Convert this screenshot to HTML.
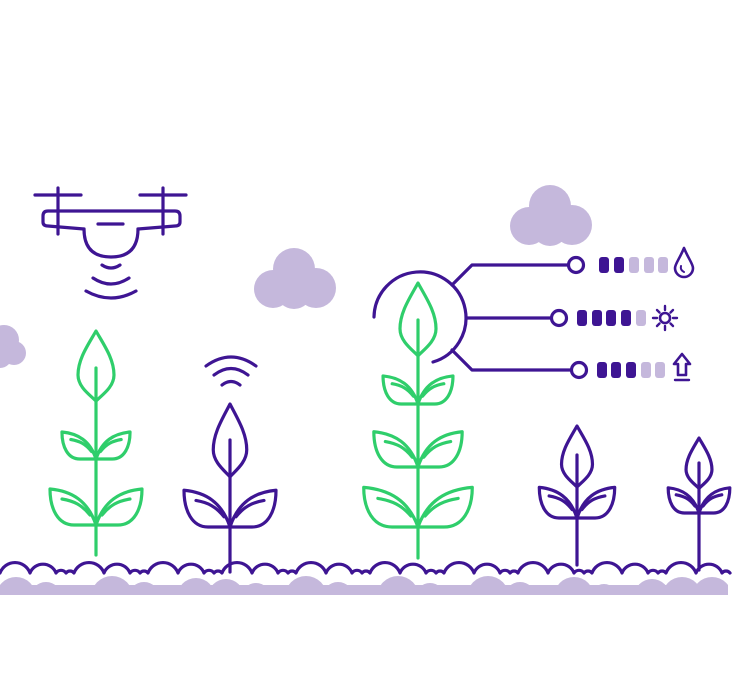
<!DOCTYPE html>
<html><head><meta charset="utf-8"><style>html,body{margin:0;padding:0;background:#fff}svg{display:block}</style></head>
<body>
<svg width="740" height="693" viewBox="0 0 740 693" xmlns="http://www.w3.org/2000/svg">
<defs>
<g id="lf"><path d="M0,0 C8,-24 24,-34 46,-36 C46,-16 38,0 22,0 L0,0 Z" vector-effect="non-scaling-stroke"/><path d="M6,-10 C14,-20 22,-24 34,-26" vector-effect="non-scaling-stroke"/></g>
<g id="tl"><path d="M0,0 C8,14 18,28 18,44 C18,56 6,64 0,70 C-6,64 -18,56 -18,44 C-18,28 -8,14 0,0 Z" vector-effect="non-scaling-stroke"/></g>
<g id="cl"><circle cx="0" cy="-18" r="21"/><circle cx="-21" cy="2" r="19"/><circle cx="22" cy="1" r="20"/><circle cx="0" cy="4" r="18"/></g>
<clipPath id="gc"><rect x="0" y="560" width="728" height="35"/></clipPath>
</defs>
<g fill="#c5b8dc">
<use href="#cl" transform="translate(550,224)"/>
<use href="#cl" transform="translate(294,287)"/>
<circle cx="4" cy="340" r="15"/><circle cx="14" cy="353" r="12"/><circle cx="0" cy="356" r="12"/>
<g clip-path="url(#gc)">
<rect x="0" y="585" width="728" height="10"/>
<circle cx="16" cy="597" r="20"/><circle cx="46" cy="598" r="16"/><circle cx="70" cy="598" r="11"/><circle cx="86" cy="598" r="9"/><circle cx="112" cy="597" r="21"/><circle cx="144" cy="598" r="16"/><circle cx="168" cy="598" r="11"/><circle cx="196" cy="597" r="19"/><circle cx="226" cy="597" r="18"/><circle cx="256" cy="598" r="15"/><circle cx="280" cy="598" r="10"/><circle cx="306" cy="597" r="21"/><circle cx="338" cy="598" r="16"/><circle cx="366" cy="598" r="13"/><circle cx="398" cy="597" r="21"/><circle cx="430" cy="598" r="15"/><circle cx="456" cy="598" r="9"/><circle cx="488" cy="597" r="21"/><circle cx="520" cy="598" r="16"/><circle cx="546" cy="598" r="11"/><circle cx="574" cy="597" r="20"/><circle cx="604" cy="598" r="14"/><circle cx="628" cy="598" r="9"/><circle cx="652" cy="597" r="18"/><circle cx="682" cy="597" r="20"/><circle cx="712" cy="597" r="20"/>
</g>
</g>
<g fill="none" stroke="#3e1593" stroke-width="3.2" stroke-linecap="round" stroke-linejoin="round">
<path d="M0,573 a16,16 0 0 1 30,0 a14,14 0 0 1 26,0 a6,6 0 0 1 10,0 a5,5 0 0 1 8,0 a16,16 0 0 1 30,0 a14,14 0 0 1 26,0 a6,6 0 0 1 10,0 a5,5 0 0 1 8,0 a16,16 0 0 1 30,0 a14,14 0 0 1 26,0 a6,6 0 0 1 10,0 a5,5 0 0 1 8,0 a16,16 0 0 1 30,0 a14,14 0 0 1 26,0 a6,6 0 0 1 10,0 a5,5 0 0 1 8,0 a16,16 0 0 1 30,0 a14,14 0 0 1 26,0 a6,6 0 0 1 10,0 a5,5 0 0 1 8,0 a16,16 0 0 1 30,0 a14,14 0 0 1 26,0 a6,6 0 0 1 10,0 a5,5 0 0 1 8,0 a16,16 0 0 1 30,0 a14,14 0 0 1 26,0 a6,6 0 0 1 10,0 a5,5 0 0 1 8,0 a16,16 0 0 1 30,0 a14,14 0 0 1 26,0 a6,6 0 0 1 10,0 a5,5 0 0 1 8,0 a16,16 0 0 1 30,0 a14,14 0 0 1 26,0 a6,6 0 0 1 10,0 a5,5 0 0 1 8,0 a16,16 0 0 1 30,0 a14,14 0 0 1 26,0 a5,5 0 0 1 8,0"/>
<!-- drone -->
<path d="M35,195 H81 M140,195 H186 M58,188 V234 M163,188 V234"/>
<path d="M48,211 H175 Q180,211 180,216 V222 Q180,226 175,226 L138,229 M48,211 Q43,211 43,216 V222 Q43,226 48,226 L84,229"/>
<path d="M84,229 Q84,257 111,257 Q138,257 138,229"/>
<path d="M98,224 H123"/>
<path d="M102,265 Q111,271 120,265 M93,278 Q111,290 129,278 M86,291 Q111,305 136,291"/>
<path d="M222,385 Q231,378 240,385 M214,375 Q231,362 248,375 M206,366 Q231,348 256,366"/>
<path d="M374,317 A46,46 0 1 1 433,362"/>
<path d="M452,285 L472,265 H568 M466,318 H551 M452,350 L472,370 H571"/>
<circle cx="576" cy="265" r="7.5"/><circle cx="559" cy="318" r="7.5"/><circle cx="579" cy="370" r="7.5"/>
<path d="M684,248 C680,258 675,264 675,268 A9,9 0 0 0 693,268 C693,264 688,258 684,248 Z" stroke-width="2.6"/>
<path d="M681,266 Q680,270 684,272" stroke-width="2"/>
<circle cx="665" cy="318" r="5" stroke-width="2.6"/>
<path d="M653,318 H657 M673,318 H677 M665,306 V310 M665,326 V330 M657,310 L659.5,312.5 M673,310 L670.5,312.5 M657,326 L659.5,323.5 M673,326 L670.5,323.5" stroke-width="2.4"/>
<path d="M682,354 L674,364 H678 V375 H686 V364 H690 Z" stroke-width="2.6"/>
<path d="M675,380 H689" stroke-width="2.4"/>
<path d="M230,440 V572"/>
<use href="#tl" transform="translate(230,404) scale(0.93,1.04)"/>
<use href="#lf" transform="translate(230,527) scale(1,1.02)"/>
<use href="#lf" transform="translate(230,527) scale(-1,1.02)"/>
<path d="M577,455 V565"/>
<use href="#tl" transform="translate(577,426) scale(0.86,0.87)"/>
<use href="#lf" transform="translate(577,518) scale(0.82,0.85)"/>
<use href="#lf" transform="translate(577,518) scale(-0.82,0.85)"/>
<path d="M699,463 V570"/>
<use href="#tl" transform="translate(699,438) scale(0.72,0.72)"/>
<use href="#lf" transform="translate(699,513) scale(0.67,0.7)"/>
<use href="#lf" transform="translate(699,513) scale(-0.67,0.7)"/>
</g>
<g fill="#3e1593">
<rect x="599" y="257" width="10" height="16" rx="3"/><rect x="614" y="257" width="10" height="16" rx="3"/>
<rect x="577" y="310" width="10" height="16" rx="3"/><rect x="592" y="310" width="10" height="16" rx="3"/><rect x="606" y="310" width="10" height="16" rx="3"/><rect x="621" y="310" width="10" height="16" rx="3"/>
<rect x="597" y="362" width="10" height="16" rx="3"/><rect x="611" y="362" width="10" height="16" rx="3"/><rect x="626" y="362" width="10" height="16" rx="3"/>
</g>
<g fill="#c5b8dc">
<rect x="629" y="257" width="10" height="16" rx="3"/><rect x="644" y="257" width="10" height="16" rx="3"/><rect x="658" y="257" width="10" height="16" rx="3"/>
<rect x="636" y="310" width="10" height="16" rx="3"/>
<rect x="641" y="362" width="10" height="16" rx="3"/><rect x="655" y="362" width="10" height="16" rx="3"/>
</g>
<g fill="none" stroke="#2fce6b" stroke-width="3.2" stroke-linecap="round" stroke-linejoin="round">
<path d="M96,368 V555"/>
<use href="#tl" transform="translate(96,331)"/>
<use href="#lf" transform="translate(96,459) scale(0.74,0.75)"/>
<use href="#lf" transform="translate(96,459) scale(-0.74,0.75)"/>
<use href="#lf" transform="translate(96,525)"/>
<use href="#lf" transform="translate(96,525) scale(-1,1)"/>
<path d="M418,320 V558"/>
<use href="#tl" transform="translate(418,283) scale(1,1.04)"/>
<use href="#lf" transform="translate(418,404) scale(0.76,0.78)"/>
<use href="#lf" transform="translate(418,404) scale(-0.76,0.78)"/>
<use href="#lf" transform="translate(418,467) scale(0.96,0.98)"/>
<use href="#lf" transform="translate(418,467) scale(-0.96,0.98)"/>
<use href="#lf" transform="translate(418,527) scale(1.18,1.1)"/>
<use href="#lf" transform="translate(418,527) scale(-1.18,1.1)"/>
</g>
</svg>
</body></html>
